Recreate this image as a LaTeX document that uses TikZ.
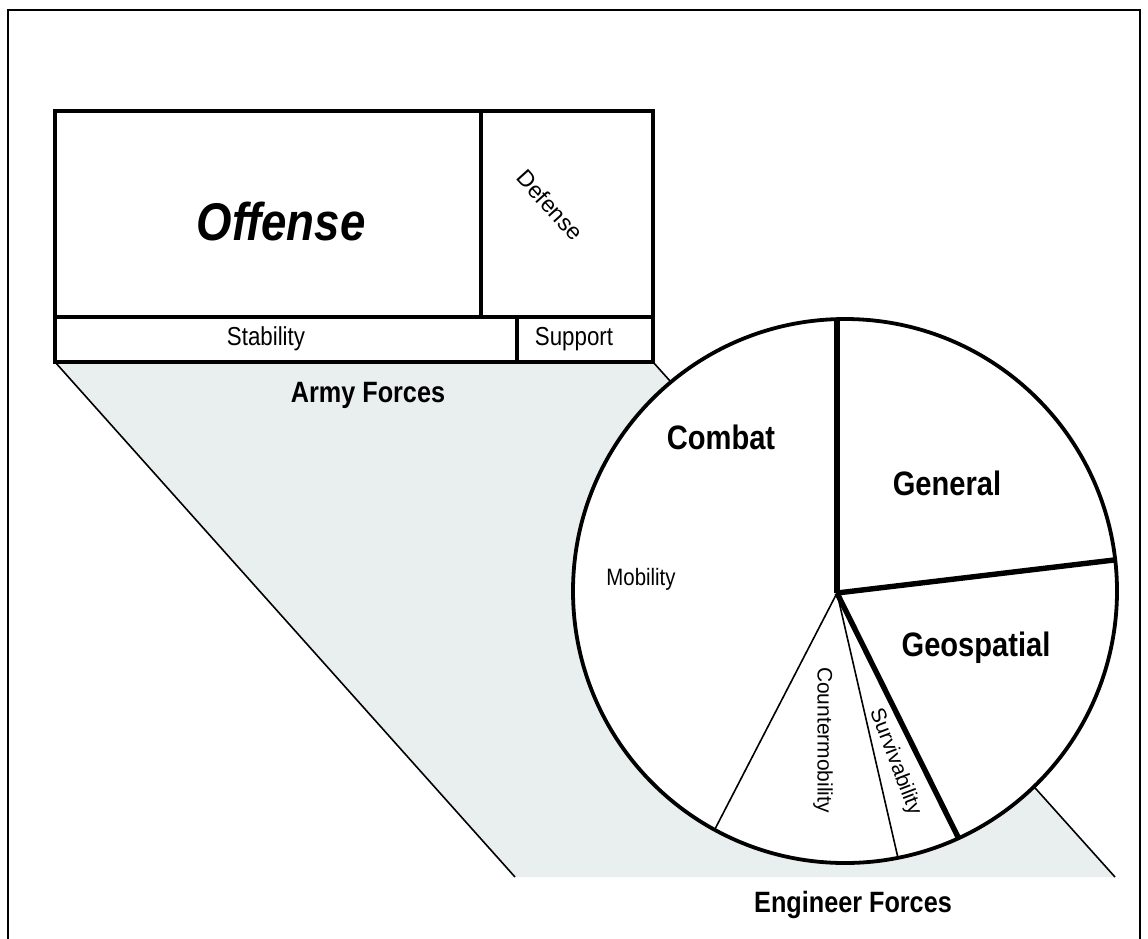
\documentclass[tikz,border=0pt]{standalone}
\usepackage{graphicx}
\usepackage{fontspec}
\setmainfont{Liberation Sans}
\definecolor{fieldgray}{RGB}{233,238,238}
\newcommand{\tallword}[1]{\scalebox{0.97}[1.13]{#1}}
\tikzset{
	cell/.style={draw, line width=3.2pt, fill=white},
	bigtitle/.style={font=\bfseries\itshape\fontsize{47}{50}\selectfont},
	headtext/.style={font=\bfseries\fontsize{30}{32}\selectfont},
	forcetext/.style={font=\bfseries\fontsize{26}{28}\selectfont},
	celltext/.style={font=\fontsize{23}{26}\selectfont},
	slicetext/.style={font=\fontsize{21}{24}\selectfont},
	heavy/.style={line width=5.4pt},
	light/.style={line width=1.6pt}
}
\begin{document}
\begin{tikzpicture}[x=1pt, y=-1pt]
	\useasboundingbox (0, 0) rectangle (1148, 938);
	\draw [line width=2.8pt] (8, 945) -- (8, 10) -- (1140, 10) -- (1140, 945);

	\fill [fieldgray] (55, 362) -- (653, 362) -- (1115, 877) -- (515, 877) -- cycle;
	\draw [light] (55, 362) -- (515, 877);
	\draw [light] (653, 362) -- (1115, 877);

	\draw [cell] (55, 111) rectangle (481, 317);
	\draw [cell] (481, 111) rectangle (653, 317);
	\draw [cell] (55, 317) rectangle (517, 362);
	\draw [cell] (517, 317) rectangle (653, 362);

	\draw node [bigtitle] at (281, 222) (offense) {\tallword{Offense}};
	\draw node [celltext, rotate=-48] at (550, 205) (defense) {Defense};
	\draw node [celltext] at (266, 339) (stability) {\tallword{Stability}};
	\draw node [celltext] at (574, 339) (support) {\tallword{Support}};
	\draw node [forcetext] at (368, 395) (army) {\tallword{Army Forces}};

	\draw [line width=3.8pt, fill=white] (845, 591) circle [radius=272pt];
	\coordinate (hub) at (837, 593);
	\coordinate (rimtop) at (837, 319);
	\coordinate (rimgen) at (1114, 560);
	\coordinate (rimgeo) at (958, 837);
	\coordinate (rimsurv) at (898, 858);
	\coordinate (rimcounter) at (715, 829);

	\draw [heavy] (hub) -- (rimtop);
	\draw [heavy] (hub) -- (rimgen);
	\draw [heavy] (hub) -- (rimgeo);
	\draw [light] (hub) -- (rimsurv);
	\draw [light] (hub) -- (rimcounter);

	\draw node [headtext] at (721, 437) (combat) {\tallword{Combat}};
	\draw node [headtext] at (947, 483) (general) {\tallword{General}};
	\draw node [headtext] at (976, 648) (geospatial) {\tallword{Geospatial}};
	\draw node [slicetext] at (641, 579) (mobility) {\tallword{Mobility}};
	\draw node [slicetext, rotate=-90] at (823, 740) (countermob) {Countermobility};
	\draw node [slicetext, rotate=-69] at (895, 762) (surviv) {Survivability};

	\draw node [forcetext] at (853, 905) (engineer) {\tallword{Engineer Forces}};
\end{tikzpicture}
\end{document}
